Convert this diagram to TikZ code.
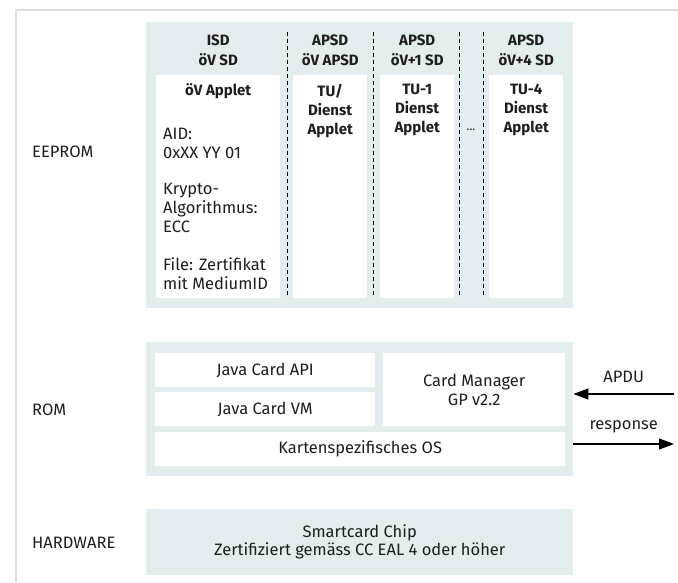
\documentclass[tikz,border=0pt]{standalone}
\usepackage{fontspec}
\setmainfont{Fira Sans}
\usetikzlibrary{arrows.meta}

\definecolor{panelgray}{HTML}{E3ECEE}
\definecolor{framegray}{HTML}{DEDED6}
\definecolor{inkgray}{HTML}{1E1E1E}

\tikzset{
  panel/.style={fill=panelgray, anchor=north west, inner sep=0pt},
  whitebox/.style={fill=white, anchor=north west, inner sep=0pt},
  txt/.style={text=inkgray, font=\fontsize{16.5}{19}\selectfont, inner sep=0pt, align=center},
  hdr/.style={txt, font=\bfseries\fontsize{15}{20}\selectfont},
  layer/.style={txt, anchor=west},
  sep/.style={dash pattern=on 3.5pt off 3.5pt, line width=0.8pt},
  io/.style={-{Triangle[length=15pt,width=11pt]}, line width=1.1pt}
}

\begin{document}
\begin{tikzpicture}[x=1pt, y=-1pt]
  \useasboundingbox (0,0) rectangle (678,582);
  \draw[framegray, line width=1.2pt] (16,582) -- (16,10) -- (678,10);

  \node[layer] (eepromLbl) at (32,152) {EEPROM};
  \node[layer] (romLbl) at (32,410) {ROM};
  \node[layer] (hwLbl) at (32,543) {HARDWARE};

  % EEPROM
  \node[panel, minimum width=427pt, minimum height=286pt] (eeprom) at (146,22) {};
  \node[whitebox, minimum width=124pt, minimum height=223pt] (isd) at (156,75) {};
  \node[whitebox, minimum width=74pt, minimum height=223pt] (tu) at (293,75) {};
  \node[whitebox, minimum width=74pt, minimum height=223pt] (tuA) at (380,75) {};
  \node[whitebox, minimum width=74pt, minimum height=223pt] (tuD) at (489,75) {};
  \foreach \x in {287,373,459,483}
    \draw[sep] (\x,32) -- (\x,298);

  \node[hdr] (isdHdr) at (isd.north |- 0,50) {ISD\\öV SD};
  \node[hdr] (tuHdr) at (tu.north |- 0,50) {APSD\\öV APSD};
  \node[hdr] (tuAHdr) at (tuA.north |- 0,50) {APSD\\öV+1 SD};
  \node[hdr] (tuDHdr) at (tuD.north |- 0,50) {APSD\\öV+4 SD};

  \node[hdr] (isdApp) at (isd.north |- 0,91) {öV Applet};
  \node[txt, anchor=north west, align=left] (isdInfo) at (163,128)
    {AID:\\0xXX YY 01\\[17pt]Krypto-\\Algorithmus:\\ECC\\[19pt]File: Zertifikat\\mit MediumID};
  \node[hdr, anchor=north, font=\bfseries\fontsize{15}{19}\selectfont] (tuApp) at (tu.north |- 0,84) {TU/\\Dienst\\Applet};
  \node[hdr, anchor=north, font=\bfseries\fontsize{15}{19}\selectfont] (tuAApp) at (tuA.north |- 0,84) {TU-1\\Dienst\\Applet};
  \node[hdr, anchor=north, font=\bfseries\fontsize{15}{19}\selectfont] (tuDApp) at (tuD.north |- 0,84) {TU-4\\Dienst\\Applet};
  \node[txt, font=\fontsize{12}{14}\selectfont] (more) at (471,130) {...};

  % ROM
  \node[panel, minimum width=427pt, minimum height=134pt] (rom) at (146,342) {};
  \node[whitebox, minimum width=220pt, minimum height=34pt] (api) at (155,353) {};
  \node[txt] at (api.center) {Java Card API};
  \node[whitebox, minimum width=220pt, minimum height=34pt] (vm) at (155,392) {};
  \node[txt] at (vm.center) {Java Card VM};
  \node[whitebox, minimum width=182pt, minimum height=73pt] (mgr) at (383,353) {};
  \node[txt] at (mgr.center) {Card Manager\\GP v2.2};
  \node[whitebox, minimum width=410pt, minimum height=34pt] (os) at (155,432) {};
  \node[txt] at (os.center) {Kartenspezifisches OS};

  \coordinate (apduIn) at (674,394);
  \coordinate (respOut) at (674,444);
  \draw[io] (apduIn) -- node[txt, midway, above=11pt] {APDU} (rom.east |- apduIn);
  \draw[io] (rom.east |- respOut) -- node[txt, midway, above=10pt] {response} (respOut);

  % HARDWARE
  \node[panel, minimum width=427pt, minimum height=66pt] (hw) at (146,509) {};
  \node[txt, font=\fontsize{16.5}{18}\selectfont] at (hw.center) {Smartcard Chip\\Zertifiziert gemäss CC EAL 4 oder höher};
\end{tikzpicture}
\end{document}
